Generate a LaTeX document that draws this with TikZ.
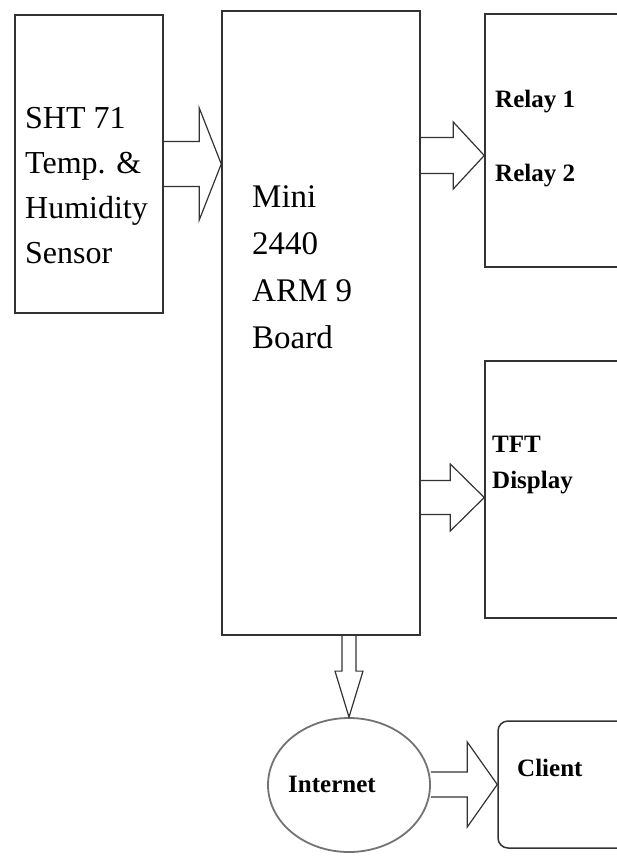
\documentclass[tikz,border=0pt]{standalone}
\usepackage{fontspec}
\setmainfont{Liberation Serif}
\usetikzlibrary{positioning, calc, shapes.geometric}

% hollow block arrows: start, tip, half shaft, half head, head length
\newcommand{\rightblock}[5]{%
  \draw[barrow] let \p1=(#1), \p2=(#2) in
    (\x1,\y2+#3pt) -- (\x2-#5pt,\y2+#3pt) -- (\x2-#5pt,\y2+#4pt) -- (\p2)
    -- (\x2-#5pt,\y2-#4pt) -- (\x2-#5pt,\y2-#3pt) -- (\x1,\y2-#3pt);}
\newcommand{\downblock}[5]{%
  \draw[barrow] let \p1=(#1), \p2=(#2) in
    (\x2-#3pt,\y1) -- (\x2-#3pt,\y2+#5pt) -- (\x2-#4pt,\y2+#5pt) -- (\p2)
    -- (\x2+#4pt,\y2+#5pt) -- (\x2+#3pt,\y2+#5pt) -- (\x2+#3pt,\y1);}

\begin{document}
\begin{tikzpicture}[
  x=1pt, y=-1pt,
  blk/.style={rectangle, draw=black!80, line width=1.5pt, inner sep=0pt},
  cloud/.style={ellipse, draw=black!55, line width=1.8pt, inner sep=0pt},
  txt/.style={inner sep=0pt, anchor=north west, align=left},
  bigtxt/.style={txt, font=\fontsize{32}{45}\selectfont},
  boldtxt/.style={txt, font=\bfseries\fontsize{25}{36}\selectfont},
  barrow/.style={draw=black!80, line width=1.2pt, line join=miter}
]
\useasboundingbox (0,0) rectangle (617,861);
\fill[white] (0,0) rectangle (617,861);
\clip (0,0) rectangle (617,861);

% boxes
\node[blk, minimum width=148pt, minimum height=298pt] (sensor) at (89,164) {};
\node[blk, minimum width=198pt, minimum height=624pt] (board) at (321,323) {};
\node[blk, minimum width=160pt, minimum height=253pt] (relay) at (565,140.5) {};
\node[blk, minimum width=160pt, minimum height=257pt] (tft) at (565,489.5) {};
\node[cloud, minimum width=162pt, minimum height=134pt] (internet) at (349,785) {};
\node[blk, rounded corners=10pt, minimum width=160pt, minimum height=127pt] (client) at (578,784.5) {};

% labels
\node[bigtxt] (sensortxt) at (25,107) {SHT 71\\Temp. \&\\Humidity\\Sensor};
\node[bigtxt, font=\fontsize{33}{47}\selectfont] (boardtxt) at (252,185) {Mini\\2440\\ARM 9\\Board};
\node[boldtxt] (relaytxt) at (495,90) {Relay 1\\[38pt]Relay 2};
\node[boldtxt] (tfttxt) at (492,436) {TFT\\Display};
\node[boldtxt] (nettxt) at (288,776) {Internet};
\node[boldtxt] (clienttxt) at (517,759) {Client};

% block arrows
\rightblock{sensor.east}{board.west |- sensor.east}{22.5}{56}{22}
\rightblock{board.east}{[yshift=-15pt]relay.west}{18}{33.5}{31}
\rightblock{board.east}{[yshift=-8pt]tft.west}{17}{33.5}{34}
\downblock{board.south}{internet.north}{7}{14}{46}
\rightblock{internet.east}{client.west}{12.5}{42.5}{30}
\end{tikzpicture}
\end{document}
